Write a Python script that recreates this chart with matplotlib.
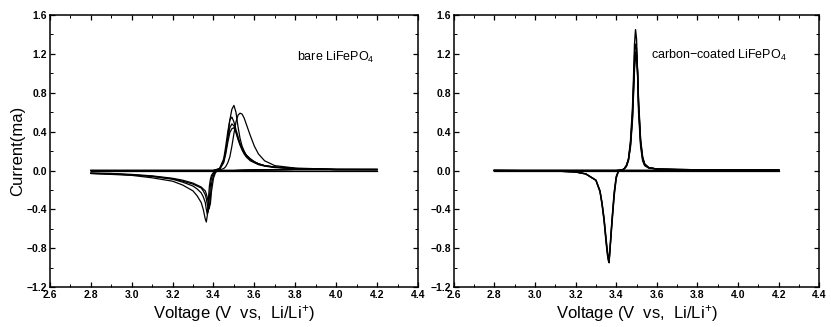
import matplotlib
matplotlib.use("Agg")
import matplotlib.pyplot as plt
from matplotlib.ticker import MultipleLocator

plt.rcParams["font.family"] = ["Liberation Sans", "DejaVu Sans"]
plt.rcParams["mathtext.fontset"] = "custom"
plt.rcParams["mathtext.rm"] = "Liberation Sans"
plt.rcParams["mathtext.it"] = "Liberation Sans"

# ---- bare LiFePO4 : anodic (forward) scans ----
bare_v_fwd = [2.80, 3.00, 3.20, 3.40, 3.43, 3.45, 3.46, 3.47, 3.48, 3.49, 3.50, 3.51,
              3.52, 3.53, 3.54, 3.55, 3.56, 3.58, 3.60, 3.62, 3.65, 3.70, 3.80, 4.00, 4.20]
bare_i_fwd = [
    [0, 0, 0, 0, 0.02, 0.10, 0.20, 0.35, 0.52, 0.63, 0.67, 0.60, 0.45, 0.33, 0.25,
     0.20, 0.16, 0.12, 0.09, 0.07, 0.05, 0.035, 0.02, 0.01, 0.01],
    [0, 0, 0, 0, 0.005, 0.02, 0.04, 0.08, 0.14, 0.25, 0.38, 0.50, 0.57, 0.59, 0.58,
     0.54, 0.48, 0.36, 0.25, 0.17, 0.10, 0.05, 0.025, 0.012, 0.01],
    [0, 0, 0, 0, 0.02, 0.12, 0.25, 0.40, 0.52, 0.55, 0.50, 0.42, 0.35, 0.28, 0.23,
     0.19, 0.16, 0.12, 0.09, 0.07, 0.05, 0.035, 0.02, 0.01, 0.01],
    [0, 0, 0, 0, 0.015, 0.10, 0.20, 0.33, 0.44, 0.48, 0.46, 0.40, 0.33, 0.27, 0.22,
     0.18, 0.15, 0.11, 0.085, 0.065, 0.05, 0.035, 0.02, 0.01, 0.01],
    [0, 0, 0, 0, 0.01, 0.08, 0.17, 0.29, 0.39, 0.43, 0.44, 0.39, 0.32, 0.26, 0.21,
     0.17, 0.14, 0.10, 0.08, 0.06, 0.045, 0.03, 0.02, 0.01, 0.01],
]
# ---- bare LiFePO4 : cathodic (reverse) scans ----
bare_v_rev = [4.20, 4.00, 3.80, 3.60, 3.50, 3.45, 3.42, 3.41, 3.40, 3.39, 3.385, 3.38,
              3.375, 3.37, 3.365, 3.36, 3.35, 3.34, 3.32, 3.30, 3.25, 3.20, 3.10,
              3.00, 2.90, 2.80]
bare_i_rev = [
    [0.01, 0.01, 0.01, 0.005, 0, 0, -0.005, -0.01, -0.02, -0.05, -0.09, -0.16, -0.30,
     -0.46, -0.53, -0.50, -0.40, -0.33, -0.26, -0.21, -0.15, -0.11, -0.075, -0.05,
     -0.04, -0.03],
    [0.01, 0.01, 0.01, 0.005, 0, 0, -0.005, -0.01, -0.03, -0.08, -0.15, -0.28, -0.42,
     -0.45, -0.40, -0.33, -0.27, -0.23, -0.19, -0.16, -0.12, -0.09, -0.06, -0.045,
     -0.035, -0.03],
    [0.01, 0.01, 0.01, 0.005, 0, 0, -0.005, -0.015, -0.05, -0.14, -0.28, -0.39, -0.40,
     -0.35, -0.29, -0.25, -0.21, -0.18, -0.16, -0.14, -0.11, -0.085, -0.06, -0.045,
     -0.035, -0.03],
    [0.01, 0.01, 0.01, 0.005, 0, 0, -0.005, -0.02, -0.08, -0.22, -0.34, -0.37, -0.33,
     -0.28, -0.24, -0.21, -0.19, -0.17, -0.15, -0.13, -0.10, -0.08, -0.055, -0.04,
     -0.03, -0.025],
]

# ---- carbon-coated LiFePO4 : anodic scans ----
cc_v_fwd = [2.80, 3.00, 3.20, 3.40, 3.43, 3.44, 3.45, 3.46, 3.47, 3.48, 3.485, 3.49,
            3.495, 3.50, 3.505, 3.51, 3.52, 3.53, 3.54, 3.56, 3.60, 3.70, 3.90, 4.20]
cc_i_fwd = [
    [0, 0, 0, 0, 0.005, 0.02, 0.05, 0.12, 0.30, 0.65, 0.95, 1.30, 1.45, 1.35, 1.00,
     0.60, 0.25, 0.10, 0.05, 0.025, 0.015, 0.01, 0.005, 0.005],
    [0, 0, 0, 0, 0.005, 0.02, 0.05, 0.11, 0.27, 0.58, 0.86, 1.18, 1.30, 1.25, 1.02,
     0.66, 0.28, 0.12, 0.06, 0.03, 0.015, 0.01, 0.005, 0.005],
    [0, 0, 0, 0, 0.005, 0.02, 0.05, 0.11, 0.26, 0.55, 0.82, 1.10, 1.22, 1.20, 1.00,
     0.68, 0.30, 0.13, 0.06, 0.03, 0.015, 0.01, 0.005, 0.005],
    [0, 0, 0, 0, 0.005, 0.02, 0.04, 0.10, 0.24, 0.52, 0.78, 1.05, 1.17, 1.18, 1.02,
     0.72, 0.32, 0.14, 0.07, 0.03, 0.015, 0.01, 0.005, 0.005],
]
# ---- carbon-coated LiFePO4 : cathodic scans ----
cc_v_rev = [4.20, 3.80, 3.60, 3.50, 3.45, 3.42, 3.41, 3.40, 3.39, 3.38, 3.375, 3.37,
            3.365, 3.36, 3.355, 3.35, 3.34, 3.33, 3.32, 3.30, 3.25, 3.20, 3.10, 3.00, 2.80]
cc_i_rev = [
    [0, 0, 0, 0, 0, 0, -0.01, -0.06, -0.22, -0.48, -0.62, -0.78, -0.95, -0.92,
     -0.84, -0.74, -0.52, -0.35, -0.22, -0.10, -0.035, -0.015, -0.005, -0.003, 0],
    [0, 0, 0, 0, 0, 0, -0.01, -0.07, -0.24, -0.50, -0.64, -0.79, -0.93, -0.90,
     -0.82, -0.72, -0.50, -0.34, -0.21, -0.10, -0.035, -0.015, -0.005, -0.003, 0],
    [0, 0, 0, 0, 0, 0, -0.012, -0.08, -0.26, -0.52, -0.66, -0.80, -0.91, -0.88,
     -0.80, -0.70, -0.49, -0.33, -0.21, -0.10, -0.035, -0.015, -0.005, -0.003, 0],
]

baseline_v = [2.80, 4.20]
baseline_i = [0.0, 0.0]

xlabel = r"Voltage (V  vs,  Li/Li$^{+}$)"

fig = plt.figure(figsize=(8.31, 3.27), dpi=100)
ax1 = fig.add_axes([0.060, 0.122, 0.443, 0.832])
ax2 = fig.add_axes([0.546, 0.122, 0.440, 0.832])


def style_axis(ax):
    ax.set_xlim(2.6, 4.4)
    ax.set_ylim(-1.2, 1.6)
    ax.xaxis.set_major_locator(MultipleLocator(0.2))
    ax.xaxis.set_minor_locator(MultipleLocator(0.1))
    ax.yaxis.set_major_locator(MultipleLocator(0.4))
    ax.yaxis.set_minor_locator(MultipleLocator(0.2))
    ax.tick_params(which="both", direction="in", top=True, right=True)
    ax.tick_params(which="major", length=3.5, width=0.9, labelsize=7.5, pad=2)
    ax.tick_params(which="minor", length=2, width=0.7)
    for lab in ax.get_xticklabels() + ax.get_yticklabels():
        lab.set_fontweight("bold")
    for sp in ax.spines.values():
        sp.set_linewidth(1.1)
    ax.set_xlabel(xlabel, fontsize=12, labelpad=2)


for ax in (ax1, ax2):
    ax.plot(baseline_v, baseline_i, color="black", lw=0.9)

for cur in bare_i_fwd:
    ax1.plot(bare_v_fwd, cur, color="black", lw=0.9)
for cur in bare_i_rev:
    ax1.plot(bare_v_rev, cur, color="black", lw=0.9)
for cur in cc_i_fwd:
    ax2.plot(cc_v_fwd, cur, color="black", lw=1.0)
for cur in cc_i_rev:
    ax2.plot(cc_v_rev, cur, color="black", lw=1.0)

style_axis(ax1)
style_axis(ax2)
ax1.set_ylabel("Current(ma)", fontsize=12, labelpad=1)

ax1.text(3.81, 1.16, r"bare LiFePO$_4$", fontsize=9, va="center", ha="left")
ax2.text(3.57, 1.18, r"carbon$-$coated LiFePO$_4$", fontsize=9, va="center", ha="left")

fig.savefig("out.png", dpi=100)
